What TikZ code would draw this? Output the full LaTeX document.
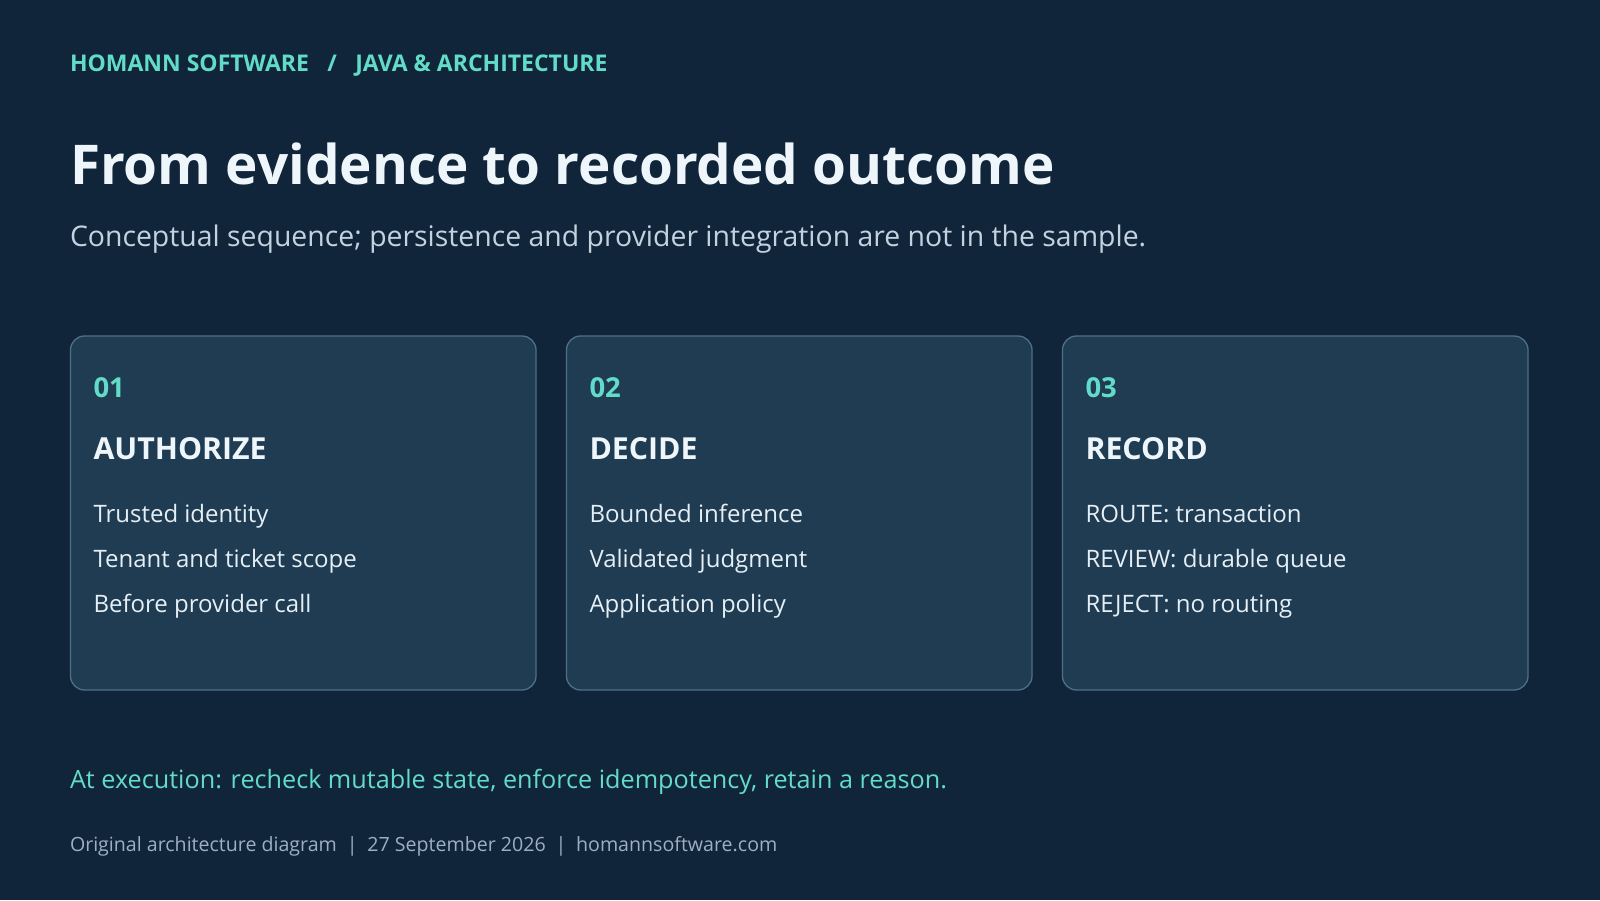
\documentclass[tikz,border=0pt]{standalone}
\usepackage{fontspec}
\setmainfont{Open Sans}
\definecolor{bg}{HTML}{11253A}
\definecolor{boxfill}{HTML}{1F3C52}
\definecolor{boxline}{HTML}{4D7089}
\definecolor{teal}{HTML}{62DCC8}
\definecolor{titlec}{HTML}{EEF6FB}
\definecolor{subc}{HTML}{C3D2DF}
\definecolor{itemc}{HTML}{E6EFF5}
\definecolor{footc}{HTML}{9DB0C2}
\tikzset{
  txt/.style={anchor=base west, inner sep=0pt, outer sep=0pt},
  card/.style={draw=boxline, line width=1.3pt, fill=boxfill, rounded corners=14pt},
  numtxt/.style={txt, text=teal, font=\fontsize{27.5}{32}\selectfont\bfseries},
  headtxt/.style={txt, text=titlec, font=\fontsize{30.3}{36}\selectfont\bfseries},
  itemtxt/.style={txt, text=itemc, font=\fontsize{24}{28}\selectfont},
}
\begin{document}
\begin{tikzpicture}[x=1pt,y=-1pt]
\fill[bg] (0,0) rectangle (1600,900);
\useasboundingbox (0,0) rectangle (1600,900);
\node[txt, text=teal, font=\fontsize{23}{27}\selectfont\bfseries] (hdr) at (70,71.4)
  {HOMANN SOFTWARE\hspace{0.8em}/\hspace{0.8em}JAVA \& ARCHITECTURE};
\node[txt, text=titlec, font=\fontsize{54.8}{64}\selectfont\bfseries] (title) at (70,184.5)
  {From evidence to recorded outcome};
\node[txt, text=subc, font=\fontsize{28.4}{33}\selectfont] (sub) at (70,246)
  {Conceptual sequence; persistence and provider integration are not in the sample.};
% cards
\foreach \i/\x/\n/\h/\a/\b/\c in {
  1/70.5/01/AUTHORIZE/Trusted identity/Tenant and ticket scope/Before provider call,
  2/566.5/02/DECIDE/Bounded inference/Validated judgment/Application policy,
  3/1062.5/03/RECORD/ROUTE: transaction/REVIEW: durable queue/REJECT: no routing}{
  \draw[card] (\x,336) rectangle ++(465.5,354);
  \node[numtxt] (num\i) at (\x+23,397.2) {\n};
  \node[headtxt] (head\i) at (\x+23,459) {\h};
  \node[itemtxt] (ia\i) at (\x+23,522.3) {\a};
  \node[itemtxt] (ib\i) at (\x+23,567.3) {\b};
  \node[itemtxt] (ic\i) at (\x+23,612.3) {\c};
}
\node[txt, text=teal, font=\fontsize{25.2}{30}\selectfont] (exec) at (70,788.8)
  {At execution: recheck mutable state, enforce idempotency, retain a reason.};
\node[txt, text=footc, font=\fontsize{19.6}{23}\selectfont] (foot) at (70,851)
  {Original architecture diagram\hspace{0.5em}|\hspace{0.5em}27 September 2026\hspace{0.5em}|\hspace{0.5em}homannsoftware.com};
\end{tikzpicture}
\end{document}
